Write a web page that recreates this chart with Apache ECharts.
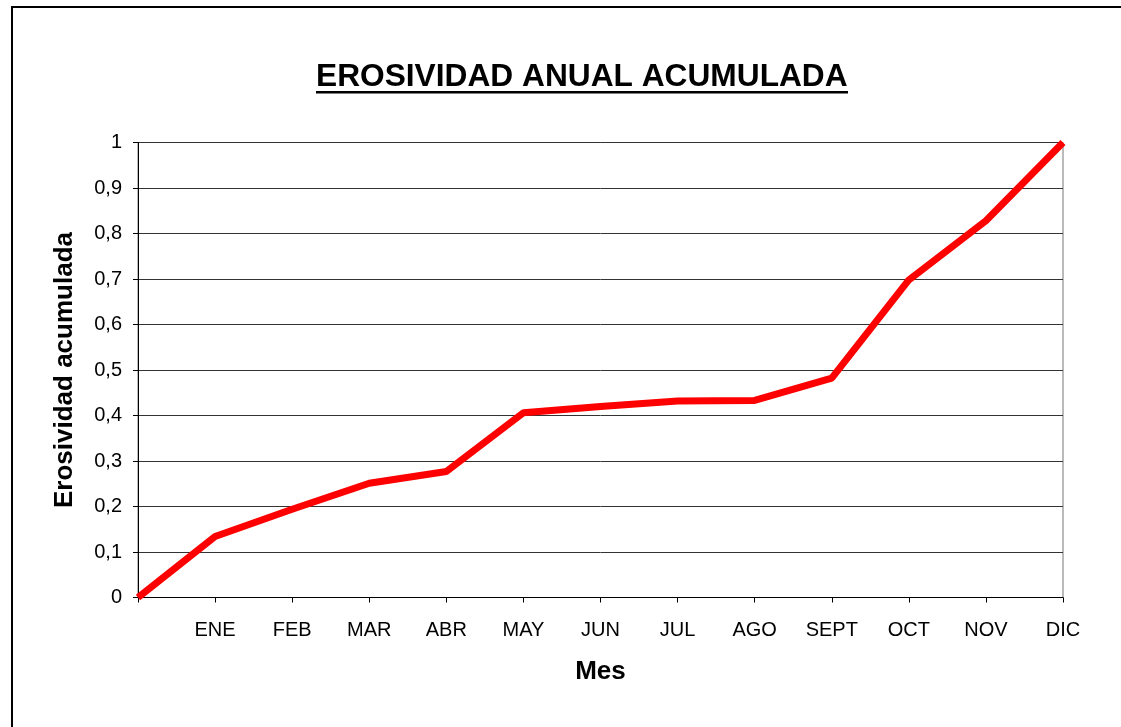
<!DOCTYPE html>
<html>
<head>
<meta charset="utf-8">
<script src="https://cdn.jsdelivr.net/npm/echarts@6/dist/echarts.min.js"></script>
<style>
  html, body { margin: 0; padding: 0; background: #fff; }
  #chart { width: 1121px; height: 727px; }
</style>
</head>
<body>
<div id="chart"></div>
<script>
  // meses (el primero vacío = punto de partida)
  var meses = ['', 'ENE', 'FEB', 'MAR', 'ABR', 'MAY', 'JUN', 'JUL', 'AGO', 'SEPT', 'OCT', 'NOV', 'DIC'];
  var erosividad = [0, 0.134, 0.194, 0.251, 0.277, 0.406, 0.42, 0.432, 0.433, 0.482, 0.698, 0.828, 1];

  var fuente = 'Liberation Sans, Arial, sans-serif';

  var chartDom = document.getElementById('chart');
  var myChart = echarts.init(chartDom);
  var option = {
    animation: false,
    backgroundColor: '#fff',
    title: {
      text: 'EROSIVIDAD ANUAL ACUMULADA',
      left: 316,
      top: 61,
      padding: 0,
      textStyle: {
        fontFamily: fuente,
        fontSize: 31.7,
        fontWeight: 'bold',
        color: '#000'
      }
    },
    graphic: [
      {
        type: 'rect',
        shape: { x: 12, y: 7, width: 1300, height: 1000 },
        style: { fill: 'none', stroke: '#000', lineWidth: 2 },
        silent: true
      },
      {
        type: 'rect',
        shape: { x: 316, y: 91, width: 532, height: 2.5 },
        style: { fill: '#000' },
        silent: true
      }
    ],
    grid: {
      left: 138,
      right: 58,
      top: 142.5,
      bottom: 129.5,
      show: true,
      borderColor: '#777',
      borderWidth: 1
    },
    xAxis: {
      type: 'category',
      data: meses,
      boundaryGap: false,
      name: 'Mes',
      nameLocation: 'middle',
      nameGap: 61,
      nameTextStyle: {
        fontFamily: fuente,
        fontSize: 26,
        fontWeight: 'bold',
        color: '#000'
      },
      axisLine: { lineStyle: { color: '#000', width: 1 } },
      axisTick: { show: true, interval: 0, length: 5, lineStyle: { color: '#000' } },
      axisLabel: {
        interval: 0,
        margin: 23,
        fontFamily: fuente,
        fontSize: 20,
        color: '#000'
      },
      splitLine: { show: false }
    },
    yAxis: {
      type: 'value',
      min: 0,
      max: 1,
      interval: 0.1,
      name: 'Erosividad acumulada',
      nameLocation: 'middle',
      nameGap: 60,
      nameTextStyle: {
        fontFamily: fuente,
        fontSize: 26,
        fontWeight: 'bold',
        color: '#000'
      },
      axisLine: { show: true, lineStyle: { color: '#000', width: 1 } },
      axisTick: { show: true, length: 5, lineStyle: { color: '#000' } },
      axisLabel: {
        margin: 16,
        fontFamily: fuente,
        fontSize: 20,
        color: '#000',
        formatter: function (v) {
          return String(+v.toFixed(1)).replace('.', ',');
        }
      },
      splitLine: { show: true, lineStyle: { color: '#333', width: 1 } }
    },
    series: [
      {
        name: 'Erosividad acumulada',
        type: 'line',
        data: erosividad,
        showSymbol: false,
        symbol: 'none',
        lineStyle: { color: '#ff0000', width: 7 },
        itemStyle: { color: '#ff0000' }
      }
    ]
  };

  option && myChart.setOption(option);
</script>
</body>
</html>
